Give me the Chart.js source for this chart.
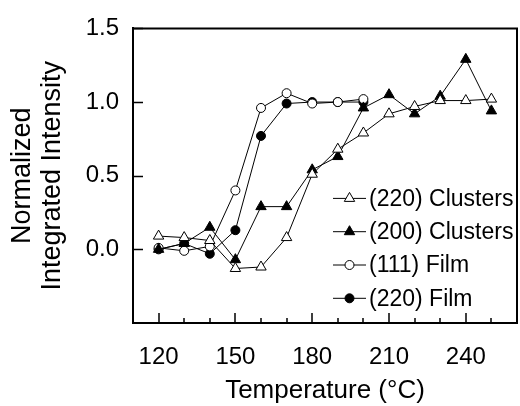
<!DOCTYPE html>
<html>
<head>
<meta charset="utf-8">
<script src="https://cdn.jsdelivr.net/npm/chart.js@4.4.1/dist/chart.umd.min.js"></script>
<style>
  html, body { margin: 0; padding: 0; background: #fff; overflow: hidden; }
  #wrap { width: 520px; height: 406px; overflow: hidden; }
</style>
</head>
<body>
<div id="wrap"><canvas id="c" width="524" height="406"></canvas></div>
<script>
// temperatures (°C)
const temps = [120, 130, 140, 150, 160, 170, 180, 190, 200, 210, 220, 230, 240, 250];
const filmTemps = [120, 130, 140, 150, 160, 170, 180, 190, 200];

// normalized integrated intensity
const clusters220 = [0.09, 0.08, 0.06, -0.13, -0.12, 0.08, 0.51, 0.68, 0.79, 0.92, 0.97, 1.01, 1.01, 1.02];
const clusters200 = [0.0, 0.04, 0.15, -0.07, 0.29, 0.29, 0.54, 0.63, 0.96, 1.05, 0.92, 1.04, 1.29, 0.94];
const film111 = [0.01, -0.01, 0.02, 0.40, 0.96, 1.06, 0.99, 1.0, 1.02];
const film220 = [0.0, 0.04, -0.03, 0.13, 0.77, 0.99, 1.0, 1.0, 1.0];

const xTickLabels = [120, 150, 180, 210, 240];
const yTickLabels = [0.0, 0.5, 1.0, 1.5];

const FONT = '"Liberation Sans", Arial, sans-serif';

function pts(xs, ys) { return xs.map((x, i) => ({ x, y: ys[i] })); }

function series(label, xs, ys, style, fill, r) {
  return {
    label, data: pts(xs, ys),
    borderColor: '#000', borderWidth: 1,
    pointStyle: style, pointRadius: r, pointHoverRadius: r,
    pointBackgroundColor: fill, pointBorderColor: '#000', pointBorderWidth: 1,
    tension: 0, fill: false, clip: false,
  };
}

// frame (top/right), inward tick marks
const frame = {
  id: 'frame',
  afterDraw(chart) {
    const { ctx, chartArea: a, scales } = chart;
    ctx.save();
    ctx.strokeStyle = '#000';
    ctx.lineWidth = 2;
    ctx.beginPath();
    ctx.moveTo(a.left, a.top); ctx.lineTo(a.right, a.top); ctx.lineTo(a.right, a.bottom);
    ctx.stroke();
    ctx.lineWidth = 1.5;
    ctx.beginPath();
    yTickLabels.forEach(v => {
      const py = Math.round(scales.y.getPixelForValue(v)) + 0.5;
      ctx.moveTo(a.left, py); ctx.lineTo(a.left + 10, py);
    });
    for (let t = 120; t <= 250; t += 10) {
      const px = Math.round(scales.x.getPixelForValue(t));
      const len = xTickLabels.includes(t) ? 10 : 5;
      ctx.moveTo(px, a.bottom); ctx.lineTo(px, a.bottom - len);
    }
    ctx.stroke();
    ctx.restore();
  }
};

// legend inside plot, line through marker
const insideLegend = {
  id: 'insideLegend',
  afterDraw(chart) {
    const { ctx, chartArea: a } = chart;
    const x0 = a.left + 200, y0 = a.top + 170, gap = 33.3;
    ctx.save();
    chart.data.datasets.forEach((ds, i) => {
      const y = y0 + i * gap;
      ctx.strokeStyle = '#000'; ctx.lineWidth = 1;
      ctx.beginPath(); ctx.moveTo(x0, y); ctx.lineTo(x0 + 33, y); ctx.stroke();
      ctx.fillStyle = ds.pointBackgroundColor;
      Chart.helpers.drawPoint(ctx, { pointStyle: ds.pointStyle, radius: ds.pointRadius, borderWidth: 1, rotation: 0 }, x0 + 16.5, y);
      ctx.fillStyle = '#000';
      ctx.font = '23px ' + FONT;
      ctx.textBaseline = 'middle';
      ctx.textAlign = 'left';
      ctx.fillText(ds.label, x0 + 36, y + 1);
    });
    ctx.restore();
  }
};

new Chart(document.getElementById('c'), {
  type: 'line',
  data: {
    datasets: [
      series('(220) Clusters', temps, clusters220, 'triangle', '#fff', 6),
      series('(200) Clusters', temps, clusters200, 'triangle', '#000', 6),
      series('(111) Film', filmTemps, film111, 'circle', '#fff', 4.5),
      series('(220) Film', filmTemps, film220, 'circle', '#000', 4.5),
    ]
  },
  options: {
    responsive: false,
    animation: false,
    layout: { padding: { top: 23, right: 2, left: 0, bottom: 0 } },
    plugins: { legend: { display: false }, tooltip: { enabled: false } },
    scales: {
      x: {
        type: 'linear', min: 110, max: 260,
        afterBuildTicks: sc => { sc.ticks = xTickLabels.map(v => ({ value: v })); },
        afterFit: sc => { sc.height = 83; },
        grid: { display: false, drawTicks: false },
        border: { display: true, color: '#000', width: 2 },
        ticks: { color: '#000', font: { size: 24, family: FONT }, padding: 20, maxRotation: 0, autoSkip: false, callback: v => String(v) },
        title: { display: true, text: 'Temperature (°C)', color: '#000', font: { size: 26, family: FONT, lineHeight: 1.15 }, padding: { top: 0, bottom: 0 } }
      },
      y: {
        type: 'linear', min: -0.5, max: 1.5,
        afterBuildTicks: sc => { sc.ticks = yTickLabels.map(v => ({ value: v })); },
        afterFit: sc => { sc.width = 133; },
        grid: { display: false, drawTicks: false },
        border: { display: true, color: '#000', width: 2 },
        ticks: { color: '#000', font: { size: 24, family: FONT }, padding: 14, callback: v => v.toFixed(1) },
        title: { display: true, text: ['Normalized', 'Integrated Intensity'], color: '#000', font: { size: 27, family: FONT, lineHeight: 1.1 }, padding: { top: 8, bottom: 0 } }
      }
    }
  },
  plugins: [frame, insideLegend]
});
</script>
</body>
</html>
